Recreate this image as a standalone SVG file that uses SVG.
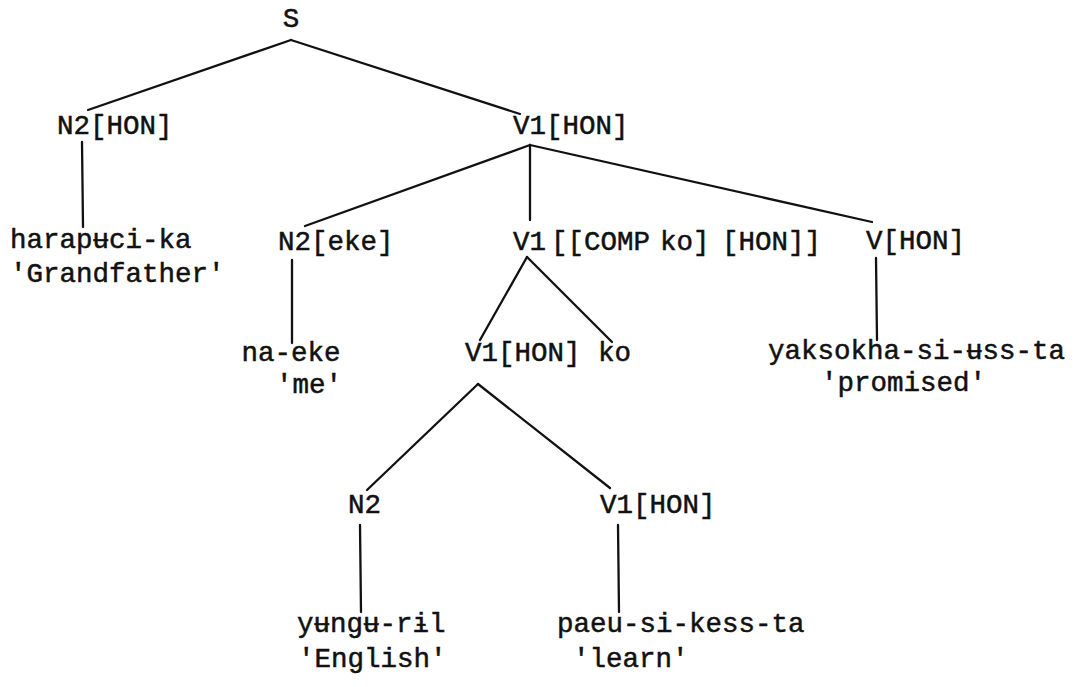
<svg xmlns="http://www.w3.org/2000/svg" width="1083" height="687" viewBox="0 0 1083 687">
<style>
text{font-family:"Liberation Mono","Courier New",monospace;font-size:27.5px;fill:#111;stroke:#111;stroke-width:0.5}
.c{text-anchor:middle}
#connectors line{stroke:#111;stroke-width:2.3;stroke-linecap:round}
</style>
<rect width="1083" height="687" fill="#fff"/>
<g id="connectors">
<line x1="291" y1="40" x2="88" y2="110"/>
<line x1="291" y1="40" x2="520" y2="114"/>
<line x1="82" y1="142" x2="83" y2="227"/>
<line x1="530" y1="145" x2="305" y2="226"/>
<line x1="530" y1="145" x2="530" y2="220"/>
<line x1="530" y1="145" x2="872" y2="222"/>
<line x1="292" y1="260" x2="292" y2="343"/>
<line x1="527" y1="257" x2="480" y2="340"/>
<line x1="527" y1="257" x2="612" y2="342"/>
<line x1="876" y1="258" x2="877" y2="340"/>
<line x1="478" y1="384" x2="367" y2="490"/>
<line x1="478" y1="384" x2="610" y2="488"/>
<line x1="360" y1="525" x2="361" y2="612"/>
<line x1="618" y1="525" x2="619" y2="612"/>
</g>
<g id="n-S"><text class="c" x="291" y="27">S</text></g>
<g id="n-N2HON"><text x="57" y="134">N2[HON]</text></g>
<g id="n-V1HON"><text x="513" y="134">V1[HON]</text></g>
<g id="n-harapeci"><text x="10" y="248">harapʉci-ka</text><text x="10" y="282">'Grandfather'</text></g>
<g id="n-N2eke"><text x="278" y="250">N2[eke]</text></g>
<g id="n-V1COMP"><text y="250"><tspan x="513">V1</tspan><tspan x="551">[[COMP</tspan><tspan x="660">ko]</tspan><tspan x="722">[HON]]</tspan></text></g>
<g id="n-VHON"><text x="866" y="249">V[HON]</text></g>
<g id="n-naeke"><text class="c" x="291" y="361">na-eke</text><text x="276" y="393">'me'</text></g>
<g id="n-V1HON2"><text x="465" y="361">V1[HON]</text></g>
<g id="n-ko"><text x="598" y="361">ko</text></g>
<g id="n-yaksokha"><text x="768" y="359">yaksokha-si-ʉss-ta</text><text x="821" y="391">'promised'</text></g>
<g id="n-N2"><text x="348" y="513">N2</text></g>
<g id="n-V1HON3"><text x="600" y="513">V1[HON]</text></g>
<g id="n-yungu"><text x="297" y="632">yʉngʉ-rɨl</text><text x="298" y="667">'English'</text></g>
<g id="n-paeu"><text x="557" y="632">paeu-si-kess-ta</text><text x="573" y="667">'learn'</text></g>
</svg>
